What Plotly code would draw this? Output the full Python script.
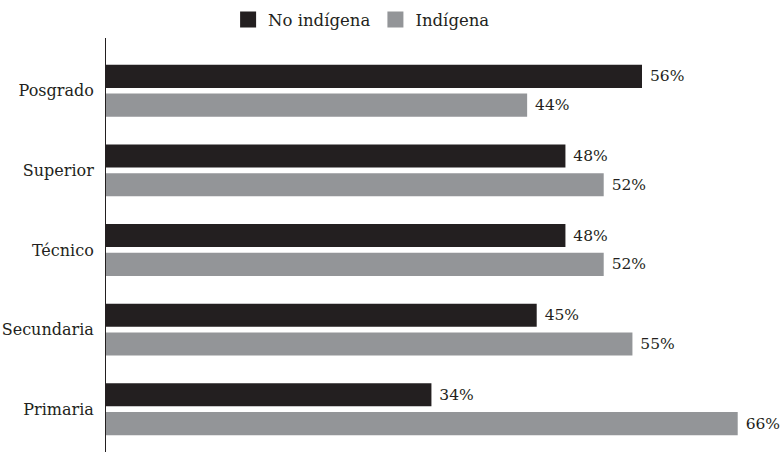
import plotly.graph_objects as go

categories = ["Primaria", "Secundaria", "Técnico", "Superior", "Posgrado"]
no_indigena = [34, 45, 48, 48, 56]
indigena = [66, 55, 52, 52, 44]
series_names = ["No indígena", "Indígena"]

FONT = "DejaVu Serif"
DARK = "#231f20"
GRAY = "#939598"

fig = go.Figure()
fig.add_trace(go.Bar(
    y=categories, x=no_indigena, orientation="h", name=series_names[0],
    marker=dict(color=DARK, line=dict(width=0)),
    width=0.29, offset=0.036, showlegend=False,
    text=[f"\u00a0{v}%" for v in no_indigena], textposition="outside",
    textfont=dict(family=FONT, size=15.5, color="#231f20"),
    constraintext="none", cliponaxis=False,
))
fig.add_trace(go.Bar(
    y=categories, x=indigena, orientation="h", name=series_names[1],
    marker=dict(color=GRAY, line=dict(width=0)),
    width=0.29, offset=-0.326, showlegend=False,
    text=[f"\u00a0{v}%" for v in indigena], textposition="outside",
    textfont=dict(family=FONT, size=15.5, color="#231f20"),
    constraintext="none", cliponaxis=False,
))
# legend entries with larger square swatches
for name, col in zip(series_names, [DARK, GRAY]):
    fig.add_trace(go.Scatter(
        x=[None], y=[None], mode="markers", name=name,
        marker=dict(symbol="square", size=16, color=col, line=dict(width=0)),
        showlegend=True, hoverinfo="skip",
    ))

fig.update_layout(
    width=781, height=452,
    margin=dict(l=106, r=5, t=38, b=0),
    paper_bgcolor="white", plot_bgcolor="white",
    barmode="overlay",
    font=dict(family=FONT, size=16, color="#231f20"),
    showlegend=True,
    legend=dict(orientation="h", x=0.463, xref="container", xanchor="center",
                y=0.995, yref="container", yanchor="top",
                font=dict(family=FONT, size=16.5, color="#231f20"),
                traceorder="normal", itemsizing="trace", itemwidth=30,
                tracegroupgap=0),
)
fig.update_xaxes(range=[0, 70], visible=False, showgrid=False, zeroline=False)
fig.update_yaxes(
    type="category", categoryorder="array", categoryarray=categories,
    range=[-0.5375, 4.6625], showgrid=False, zeroline=False,
    showline=True, linecolor="#231f20", linewidth=1,
    ticks="", ticklabelstandoff=8,
    tickfont=dict(family=FONT, size=16, color="#231f20"),
)

fig.write_html("out.html")
